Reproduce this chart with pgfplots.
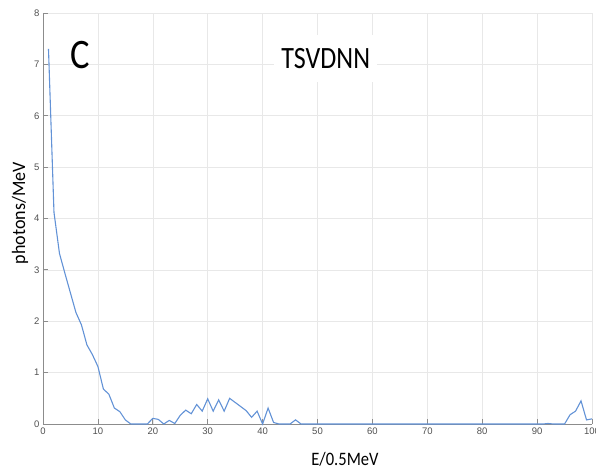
\documentclass[border=0pt]{standalone}
\usepackage{fontspec}
\setmainfont{Liberation Sans}
\newfontfamily\labfont{Carlito}
\usepackage{graphicx}
\usepackage{pgfplots}
\pgfplotsset{compat=1.18}

\definecolor{specblue}{RGB}{98,146,214}
\definecolor{gridgray}{RGB}{232,232,232}
\definecolor{axgray}{RGB}{140,140,140}
\definecolor{ticktext}{RGB}{80,80,80}

\begin{document}
\begin{tikzpicture}
\useasboundingbox (0,0) rectangle (596pt,472pt);
\begin{axis}[
  at={(43pt,48pt)}, anchor=south west,
  scale only axis, width=549pt, height=411pt,
  xmin=0, xmax=100, ymin=0, ymax=8,
  xtick distance=10, ytick distance=1,
  axis x line*=bottom, axis y line*=left,
  axis line style={axgray, line width=0.8pt},
  grid=major,
  major grid style={gridgray, line width=0.6pt},
  tick align=inside,
  major tick length=5pt,
  tick style={axgray, line width=0.8pt},
  /pgf/number format/assume math mode=true,
  ticklabel style={font=\fontsize{9.5}{10}\selectfont, text=ticktext},
  xlabel={\labfont\scalebox{0.87}[1]{E/0.5MeV}},
  ylabel={\labfont\scalebox{0.95}[1]{photons/MeV}},
  every axis x label/.style={at={(axis description cs:0.55,-0.085)}, anchor=center, font=\fontsize{19}{20}\selectfont},
  every axis y label/.style={at={(axis description cs:-0.042,0.513)}, anchor=center, rotate=90, font=\fontsize{19}{20}\selectfont},
  clip=false,
]
\addplot[specblue, line width=1.1pt] coordinates {
  (1,7.30) (2,4.12) (3,3.32) (4,2.93) (5,2.55) (6,2.17) (7,1.93) (8,1.54)
  (9,1.35) (10,1.12) (11,0.68) (12,0.58) (13,0.31) (14,0.24) (15,0.08)
  (16,0) (17,0) (18,0) (19,0) (20,0.11) (21,0.09) (22,0) (23,0.07) (24,0.01)
  (25,0.17) (26,0.27) (27,0.20) (28,0.38) (29,0.25) (30,0.49) (31,0.25)
  (32,0.47) (33,0.25) (34,0.50) (35,0.42) (36,0.34) (37,0.26) (38,0.13)
  (39,0.25) (40,0) (41,0.31) (42,0.03) (43,0) (44,0) (45,0) (46,0.08)
  (47,0) (91,0) (92,0.01) (93,0) (94,0) (95,0) (96,0.18) (97,0.25)
  (98,0.45) (99,0.08) (100,0.10)
};
\node[font=\labfont\fontsize{42}{44}\selectfont] at (axis cs:6.74,7.18) {\scalebox{0.87}[1]{C}};
\node[fill=white, minimum width=103pt, minimum height=47pt, inner sep=0pt,
      font=\labfont\fontsize{31}{32}\selectfont] at (axis cs:51.5,7.11) {\scalebox{0.84}[1]{TSVDNN}};
\end{axis}
\end{tikzpicture}
\end{document}
